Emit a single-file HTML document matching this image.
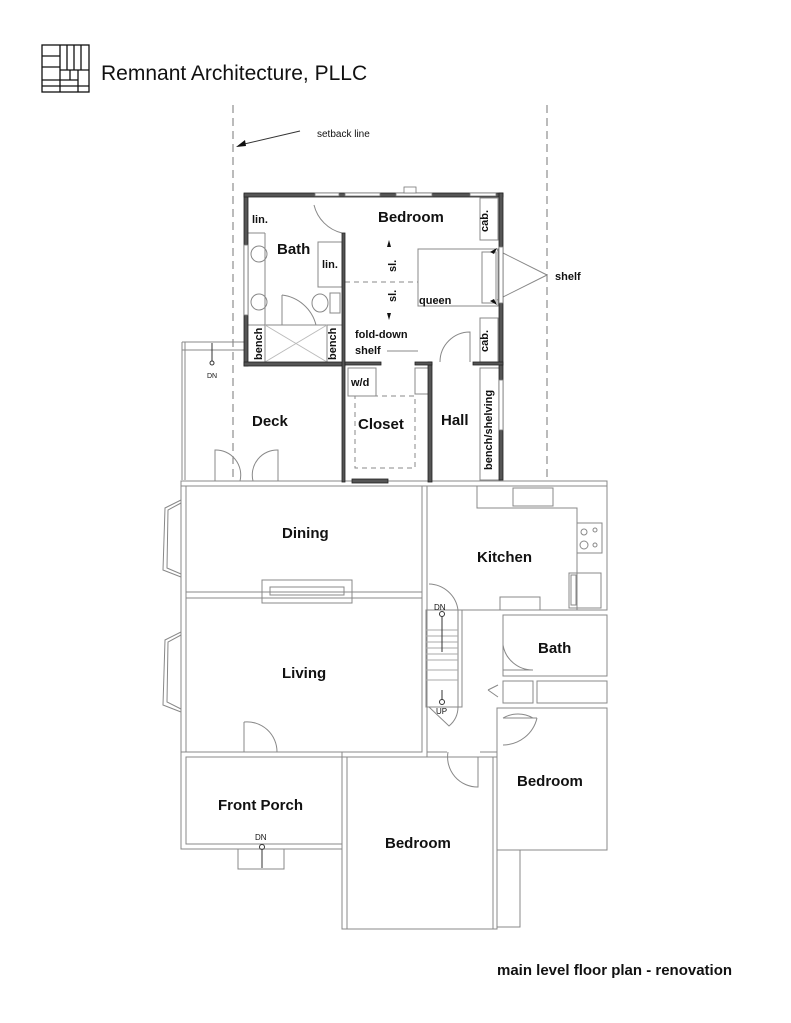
<!DOCTYPE html>
<html><head><meta charset="utf-8"><style>
html,body{margin:0;padding:0;background:#fff}
svg{display:block}
text{font-family:"Liberation Sans",Arial,sans-serif;fill:#111}
.l{font-weight:bold;font-size:15px}
.s{font-weight:bold;font-size:11px}
.t{font-size:9px}
</style></head><body>
<svg width="791" height="1023" viewBox="0 0 791 1023" xmlns="http://www.w3.org/2000/svg">
<!-- logo -->
<g fill="none" stroke="#111" stroke-width="1.3">
<rect x="42" y="45" width="47" height="47"/>
<line x1="42" y1="56" x2="60" y2="56"/><line x1="60" y1="45" x2="60" y2="92"/>
<line x1="67" y1="45" x2="67" y2="70"/><line x1="74" y1="45" x2="74" y2="70"/><line x1="81" y1="45" x2="81" y2="70"/>
<line x1="42" y1="67" x2="60" y2="67"/><line x1="60" y1="70" x2="89" y2="70"/>
<line x1="70" y1="70" x2="70" y2="80"/><line x1="78" y1="70" x2="78" y2="92"/>
<line x1="42" y1="80" x2="78" y2="80"/><line x1="42" y1="86" x2="89" y2="86"/>
</g>
<text x="101" y="80" style="font-size:21px">Remnant Architecture, PLLC</text>

<!-- setback lines -->
<g stroke="#777" stroke-width="1" stroke-dasharray="8,5">
<line x1="233" y1="105" x2="233" y2="480"/><line x1="547" y1="105" x2="547" y2="480"/>
</g>
<text x="317" y="137" class="t" style="font-size:10px">setback line</text>
<line x1="300" y1="131" x2="240" y2="145" stroke="#333" stroke-width="1"/>
<polygon points="236,147 245,140 246,146" fill="#111"/>

<!-- main house thin lines -->
<g fill="none" stroke="#888" stroke-width="1">
<rect x="181" y="481" width="426" height="5"/>
<line x1="181" y1="481" x2="181" y2="757"/><line x1="186" y1="486" x2="186" y2="752"/>
<rect x="186" y="486" width="236" height="106"/>
<rect x="186" y="598" width="236" height="154"/>
<line x1="422" y1="486" x2="422" y2="752"/><line x1="427" y1="486" x2="427" y2="757"/>
<polyline points="181,500 165,508 163,570 181,577"/><polyline points="181,503 168,510 167,568 181,574"/>
<polyline points="181,632 165,640 163,705 181,712"/><polyline points="181,635 168,642 167,702 181,709"/>
<rect x="262" y="580" width="90" height="23"/><rect x="270" y="587" width="74" height="8"/>
<rect x="181" y="752" width="161" height="97"/><rect x="186" y="757" width="156" height="87"/>
<rect x="238" y="849" width="46" height="20"/>
<rect x="342" y="757" width="5" height="172"/><rect x="347" y="757" width="146" height="172"/>
<rect x="493" y="757" width="4" height="172"/>
<line x1="427" y1="752" x2="447" y2="752"/><line x1="480" y1="752" x2="497" y2="752"/>
<rect x="427" y="486" width="180" height="124"/>
<polyline points="477,486 477,508 577,508 577,610"/>
<rect x="513" y="488" width="40" height="18"/>
<rect x="577" y="523" width="25" height="30"/><circle cx="584" cy="532" r="3"/><circle cx="584" cy="545" r="4"/><circle cx="595" cy="530" r="2"/><circle cx="595" cy="545" r="2"/>
<rect x="569" y="573" width="32" height="35"/><rect x="571" y="575" width="5" height="30"/>
<rect x="500" y="597" width="40" height="13"/>
<rect x="503" y="615" width="104" height="61"/>
<rect x="503" y="681" width="30" height="22"/><rect x="537" y="681" width="70" height="22"/>
<rect x="497" y="708" width="110" height="142"/><rect x="497" y="850" width="23" height="77"/>
<rect x="426" y="610" width="32" height="97"/><rect x="458" y="610" width="4" height="97"/>
<g stroke="#aaa"><line x1="426" y1="630" x2="458" y2="630"/><line x1="426" y1="636" x2="458" y2="636"/><line x1="426" y1="642" x2="458" y2="642"/><line x1="426" y1="648" x2="458" y2="648"/><line x1="426" y1="654" x2="458" y2="654"/><line x1="426" y1="660" x2="458" y2="660"/><line x1="426" y1="670" x2="458" y2="670"/><line x1="426" y1="680" x2="458" y2="680"/></g>
<path d="M429 584 A30 30 0 0 1 458 610"/><path d="M429 707 L449 726 A25 25 0 0 0 458 707"/>
<path d="M503 645 A30 30 0 0 0 533 670 M503 670 L533 670"/>
<path d="M503 718 A30 30 0 0 1 533 718"/><path d="M503 718 L537 718 M503 745 A35 35 0 0 0 537 718"/>
<path d="M448 752 A30 30 0 0 0 478 787 L478 757"/>
<path d="M244 722 A30 30 0 0 1 277 752 M244 722 L244 752"/>
<path d="M488 690 L498 685 M488 690 L498 697"/>
<!-- deck -->
<line x1="182" y1="342" x2="182" y2="480"/><line x1="185" y1="342" x2="185" y2="480"/>
<line x1="182" y1="342" x2="245" y2="342"/><line x1="182" y1="350" x2="245" y2="350"/>
<path d="M215 481 L215 450 A25 25 0 0 1 240 481 M278 481 L278 450 A25 25 0 0 0 253 481"/>
<!-- addition thin -->
<line x1="265" y1="233" x2="265" y2="330"/>
<circle cx="259" cy="254" r="8"/><circle cx="259" cy="302" r="8"/>
<rect x="318" y="242" width="24" height="45"/>
<ellipse cx="320" cy="303" rx="8" ry="9"/><rect x="330" y="293" width="10" height="20"/>
<line x1="248" y1="325" x2="344" y2="325"/><line x1="265" y1="325" x2="265" y2="362"/><line x1="327" y1="325" x2="327" y2="362"/>
<line x1="265" y1="325" x2="327" y2="362" stroke="#bbb"/><line x1="327" y1="325" x2="265" y2="362" stroke="#bbb"/>
<path d="M282 295 L282 325 M282 295 A40 40 0 0 1 316 325"/>
<path d="M314 205 A38 38 0 0 0 342 233"/>
<line x1="248" y1="233" x2="265" y2="233"/>
<rect x="418" y="249" width="80" height="57"/><rect x="482" y="252" width="14" height="51"/>
<line x1="345" y1="282" x2="418" y2="282" stroke-dasharray="5,4"/>
<rect x="480" y="198" width="18" height="42"/><rect x="480" y="318" width="18" height="44"/>
<path d="M440 362 A30 30 0 0 1 470 332 L470 362"/>
<rect x="348" y="368" width="28" height="28"/>
<rect x="415" y="368" width="14" height="26"/>
<rect x="480" y="368" width="20" height="112"/>
<rect x="355" y="396" width="60" height="72" stroke-dasharray="5,4"/>
<line x1="387" y1="351" x2="418" y2="351"/>
<line x1="497" y1="250" x2="547" y2="275"/><line x1="497" y1="300" x2="547" y2="275"/>
</g>
<!-- thick addition walls -->
<g fill="#555" stroke="#222" stroke-width="0.8">
<rect x="244" y="194" width="4" height="172"/>
<rect x="244" y="193" width="259" height="4"/>
<rect x="499" y="193" width="4" height="287"/>
<rect x="244" y="362" width="101" height="4"/>
<rect x="342" y="233" width="3" height="249"/>
<rect x="428" y="362" width="4" height="120"/>
<rect x="345" y="362" width="36" height="3"/><rect x="415" y="362" width="17" height="3"/>
<rect x="473" y="362" width="30" height="3"/>
<rect x="352" y="479" width="36" height="4"/>
</g>
<g fill="#fff" stroke="#777" stroke-width="0.8">
<rect x="315" y="193" width="24" height="3"/><rect x="345" y="193" width="35" height="3"/><rect x="396" y="193" width="36" height="3"/><rect x="470" y="193" width="26" height="3"/>
<rect x="404" y="187" width="12" height="6"/>
<rect x="499" y="247" width="4" height="56"/><rect x="499" y="380" width="4" height="50"/>
<rect x="244" y="245" width="4" height="70"/>
</g>
<polygon points="497,248 490,252 494,254" fill="#111"/><polygon points="497,305 490,301 494,299" fill="#111"/>
<!-- labels -->
<text x="378" y="222" class="l">Bedroom</text>
<text x="277" y="254" class="l">Bath</text>
<text x="252" y="223" class="s">lin.</text><text x="322" y="268" class="s">lin.</text>
<text class="s" transform="translate(488,232) rotate(-90)">cab.</text>
<text class="s" transform="translate(488,352) rotate(-90)">cab.</text>
<text class="s" transform="translate(396,272) rotate(-90)">sl.</text>
<text class="s" transform="translate(396,302) rotate(-90)">sl.</text>
<polygon points="389,240 387,247 391,247" fill="#111"/><polygon points="389,320 387,313 391,313" fill="#111"/>
<text x="419" y="304" class="s">queen</text>
<text x="555" y="280" class="s">shelf</text>
<text class="s" transform="translate(262,360) rotate(-90)">bench</text>
<text class="s" transform="translate(336,360) rotate(-90)">bench</text>
<text x="355" y="338" class="s">fold-down</text><text x="355" y="354" class="s">shelf</text>
<text x="351" y="386" class="s">w/d</text>
<text class="s" transform="translate(492,470) rotate(-90)">bench/shelving</text>
<text x="358" y="429" class="l">Closet</text>
<text x="441" y="425" class="l">Hall</text>
<text x="252" y="426" class="l">Deck</text>
<text x="207" y="378" class="t" style="font-size:7px">DN</text>
<circle cx="212" cy="363" r="2" fill="none" stroke="#333"/><line x1="212" y1="361" x2="212" y2="343" stroke="#333"/>
<text x="282" y="538" class="l">Dining</text>
<text x="477" y="562" class="l">Kitchen</text>
<text x="282" y="678" class="l">Living</text>
<text x="538" y="653" class="l">Bath</text>
<text x="517" y="786" class="l">Bedroom</text>
<text x="385" y="848" class="l">Bedroom</text>
<text x="218" y="810" class="l">Front Porch</text>
<text x="434" y="610" style="font-size:8px">DN</text><circle cx="442" cy="614" r="2.5" fill="none" stroke="#333"/><line x1="442" y1="617" x2="442" y2="652" stroke="#333"/>
<text x="436" y="714" style="font-size:8px">UP</text><circle cx="442" cy="702" r="2.5" fill="none" stroke="#333"/><line x1="442" y1="700" x2="442" y2="690" stroke="#333"/>
<text x="255" y="840" style="font-size:8px">DN</text><circle cx="262" cy="847" r="2.5" fill="none" stroke="#333"/><line x1="262" y1="850" x2="262" y2="868" stroke="#333"/>
<text x="497" y="975" style="font-size:15px;font-weight:bold">main level floor plan - renovation</text>
</svg>
</body></html>
